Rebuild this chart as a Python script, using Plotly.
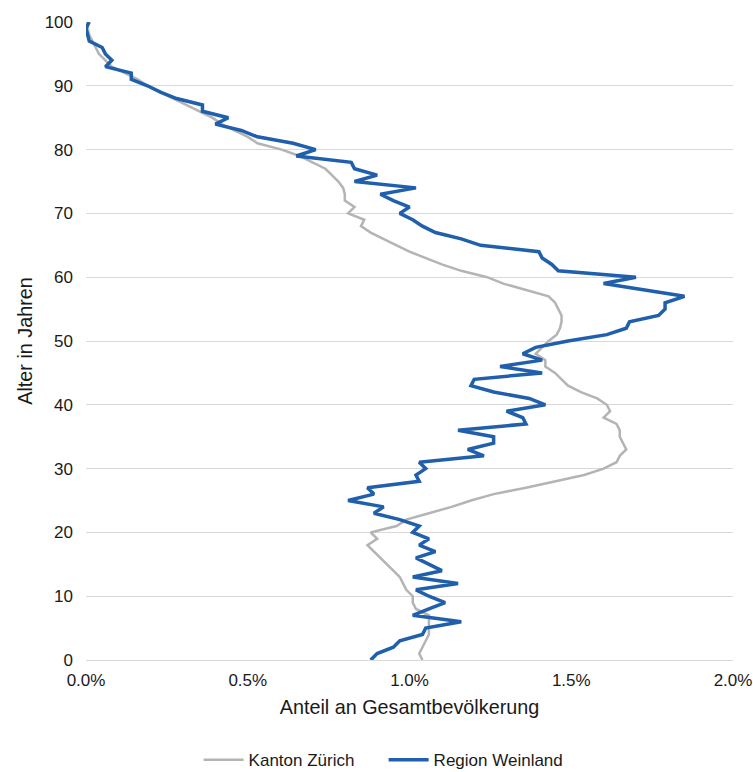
import plotly.graph_objects as go

ages = list(range(0, 101))

kanton_zuerich = [
    1.04, 1.03, 1.04, 1.05, 1.06, 1.06, 1.06, 1.06, 1.02, 1.01,
    1.01, 0.99, 0.98, 0.97, 0.95, 0.93, 0.91, 0.89, 0.87, 0.90,
    0.88, 0.96, 0.99, 1.06, 1.13, 1.19, 1.26, 1.36, 1.45, 1.54,
    1.60, 1.64, 1.65, 1.67, 1.66, 1.65, 1.65, 1.64, 1.60, 1.62,
    1.61, 1.58, 1.53, 1.49, 1.47, 1.45, 1.42, 1.42, 1.39, 1.41,
    1.43, 1.455, 1.465, 1.47, 1.47, 1.46, 1.45, 1.43, 1.36, 1.29,
    1.24, 1.16, 1.10, 1.05, 1.00, 0.96, 0.92, 0.88, 0.85, 0.86,
    0.81, 0.83, 0.80, 0.80, 0.795, 0.78, 0.76, 0.74, 0.70, 0.66,
    0.605, 0.53, 0.50, 0.46, 0.42, 0.39, 0.35, 0.31, 0.27, 0.23,
    0.19, 0.16, 0.12, 0.08, 0.06, 0.04, 0.03, 0.02, 0.01, 0.005,
    0.003,
]

region_weinland = [
    0.88, 0.90, 0.95, 0.97, 1.04, 1.05, 1.16, 1.01, 1.06, 1.11,
    1.06, 1.02, 1.15, 1.01, 1.10, 1.06, 1.02, 1.08, 1.03, 1.06,
    1.01, 1.03, 0.97, 0.89, 0.92, 0.81, 0.89, 0.87, 1.03, 1.02,
    1.05, 1.03, 1.23, 1.18, 1.26, 1.26, 1.15, 1.36, 1.35, 1.30,
    1.42, 1.37, 1.26, 1.19, 1.20, 1.41, 1.28, 1.41, 1.35, 1.39,
    1.49, 1.61, 1.67, 1.68, 1.77, 1.79, 1.79, 1.85, 1.73, 1.60,
    1.70, 1.46, 1.44, 1.41, 1.40, 1.22, 1.16, 1.08, 1.04, 1.01,
    0.97, 1.00, 0.95, 0.91, 1.02, 0.83, 0.90, 0.83, 0.82, 0.65,
    0.71, 0.64, 0.53, 0.48, 0.40, 0.44, 0.36, 0.36, 0.28, 0.23,
    0.19, 0.14, 0.14, 0.06, 0.08, 0.06, 0.05, 0.01, 0.005, 0.0,
    0.01,
]

x_ticks = [0, 0.5, 1.0, 1.5, 2.0]
x_tick_labels = ["0.0%", "0.5%", "1.0%", "1.5%", "2.0%"]
y_ticks = list(range(0, 101, 10))

series_names = ["Kanton Zürich", "Region Weinland"]

FONT = "Liberation Sans, Arial, sans-serif"
GRID = "#d9d9d9"
TEXT = "#1a1a1a"

fig = go.Figure()
fig.add_trace(go.Scatter(
    x=kanton_zuerich, y=ages, mode="lines", name=series_names[0],
    line=dict(color="#b4b4b4", width=2.5),
))
fig.add_trace(go.Scatter(
    x=region_weinland, y=ages, mode="lines", name=series_names[1],
    line=dict(color="#1f5fab", width=3.5),
))

fig.update_layout(
    width=753, height=772,
    margin=dict(l=86, r=20, t=22, b=112, autoexpand=False),
    paper_bgcolor="white", plot_bgcolor="white",
    font=dict(family=FONT, size=17, color=TEXT),
    showlegend=True,
    legend=dict(
        orientation="h", x=0.46, xanchor="center", y=-0.157, yanchor="middle",
        font=dict(size=17, color=TEXT), itemwidth=40,
        entrywidth=130, entrywidthmode="pixels",
        bgcolor="rgba(0,0,0,0)",
    ),
    xaxis=dict(
        range=[0, 2], tickvals=x_ticks, ticktext=x_tick_labels,
        showgrid=False, zeroline=False, showline=True, linecolor=GRID, linewidth=1,
        ticks="", ticklabelstandoff=5, automargin=False, ticklabeloverflow="allow",
        title=dict(text="Anteil an Gesamtbevölkerung", font=dict(size=19.8), standoff=10),
        tickfont=dict(size=17),
    ),
    yaxis=dict(
        range=[0, 100], tickvals=y_ticks,
        showgrid=True, gridcolor=GRID, gridwidth=1,
        zeroline=False, showline=False, ticks="", ticklabelstandoff=12,
        automargin=False,
        title=dict(text="Alter in Jahren", font=dict(size=19.8), standoff=6),
        tickfont=dict(size=17),
    ),
)

fig.write_html(
    "out.html",
    config={"displayModeBar": False},
    post_script="document.body.style.margin='0';",
)
